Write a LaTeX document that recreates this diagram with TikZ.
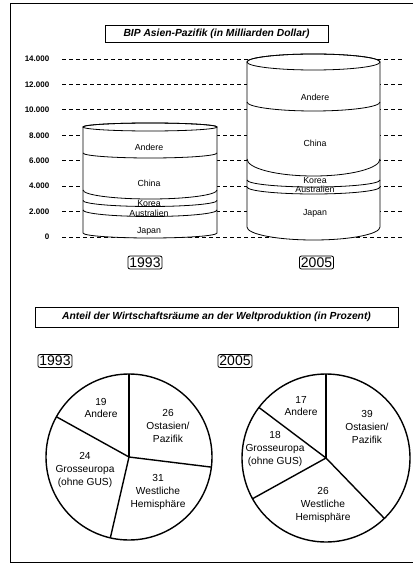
\documentclass[tikz,border=0pt]{standalone}
\usepackage{fontspec}
\setmainfont{Liberation Sans}
\usetikzlibrary{positioning}
% body of a drum: centre x, half width, top y, top depth, bottom y, bottom depth
\newcommand{\drum}[6]{
  \filldraw[fill=white] (#1-#2,-#3) -- (#1-#2,-#5)
    arc[start angle=180,end angle=360,x radius=#2,y radius=#6]
    -- (#1+#2,-#3) arc[start angle=0,end angle=180,x radius=#2,y radius=#4] -- cycle;
  \draw (#1,-#3) ellipse[x radius=#2,y radius=#4];}
% front line between two layers
\newcommand{\layer}[4]{\draw (#1-#2,-#3) arc[start angle=180,end angle=360,x radius=#2,y radius=#4];}

\begin{document}
\begin{tikzpicture}[x=1pt,y=1pt,line width=0.8pt,
    lbl/.style={font=\fontsize{8.8}{9}\selectfont},
    tick/.style={anchor=east,font=\fontsize{8}{8}\selectfont\bfseries},
    grid/.style={dash pattern=on 4pt off 3pt,line width=0.9pt},
    titlebox/.style={draw,inner sep=0pt,font=\fontsize{10.3}{10}\selectfont\bfseries\itshape},
    yearbox/.style={draw,rounded corners=2pt,inner sep=1.5pt,font=\fontsize{14}{14}\selectfont},
    share/.style={align=center,font=\fontsize{10.2}{12.8}\selectfont},
    pie/.style={line width=1.4pt}]
    \useasboundingbox (0,0) rectangle (413,-564);
    \draw (413,-3) -- (10,-3) -- (10,-562) -- (413,-562);

    \node[titlebox,minimum width=223,minimum height=17] (bip) at (216.5,-33.5) {BIP Asien-Pazifik (in Milliarden Dollar)};

    % axis with dashed lines
    \foreach \v/\t in {0/0,1/2.000,2/4.000,3/6.000,4/8.000,5/10.000,6/12.000,7/14.000} {
        \node[tick] (t\v) at (53,-237+25.43*\v) {\t};
        \draw[grid] (62,-237+25.43*\v) -- (403,-237+25.43*\v);
    }

    % 1993
    \drum{150}{67}{127}{4}{233}{5}
    \layer{150}{67}{153}{5}
    \layer{150}{67}{190}{9}
    \layer{150}{67}{200.5}{6}
    \layer{150}{67}{210}{6.5}
    \node[lbl] (a93) at (149,-147) {Andere};
    \node[lbl] (c93) at (149,-183) {China};
    \node[lbl] (k93) at (149,-203.5) {Korea};
    \node[lbl] (au93) at (149,-213.5) {Australien};
    \node[lbl] (j93) at (149,-231) {Japan};

    % 2005
    \drum{313.5}{66.5}{62}{8}{227}{13}
    \layer{313.5}{66.5}{102}{9}
    \layer{313.5}{66.5}{159}{17}
    \layer{313.5}{66.5}{180}{7}
    \layer{313.5}{66.5}{187}{7}
    \node[lbl] (a05) at (315,-97) {Andere};
    \node[lbl] (c05) at (315,-143) {China};
    \node[lbl] (k05) at (315,-180.5) {Korea};
    \node[lbl] (au05) at (315,-189.5) {Australien};
    \node[lbl] (j05) at (315,-213) {Japan};

    \node[yearbox] (y93) at (145,-262.5) {1993};
    \node[yearbox] (y05) at (316.5,-262.5) {2005};

    \node[titlebox,minimum width=363,minimum height=20] (welt) at (216.5,-317) {Anteil der Wirtschaftsräume an der Weltproduktion (in Prozent)};

    \node[yearbox] (p93) at (55,-361) {1993};
    \node[yearbox] (p05) at (235,-361) {2005};

    % pies
    \coordinate (pa) at (129,-457);
    \coordinate (pb) at (326,-458);
    \draw[pie] (pa) circle[radius=83];
    \foreach \a in {90,-7,-103,151}
        \draw[pie] (pa) -- ++(\a:83pt);
    \draw[pie] (pb) circle[radius=84];
    \foreach \a in {90,-46,209,143}
        \draw[pie] (pb) -- ++(\a:84pt);

    \node[share] (s1) at (101,-408) {19\\Andere};
    \node[share] (s2) at (168,-426) {26\\Ostasien/\\Pazifik};
    \node[share] (s3) at (85,-470) {24\\Grosseuropa\\(ohne GUS)};
    \node[share] (s4) at (158,-492) {31\\Westliche\\Hemisphäre};

    \node[share] (s5) at (301,-406) {17\\Andere};
    \node[share] (s6) at (367,-427) {39\\Ostasien/\\Pazifik};
    \node[share] (s7) at (275,-449) {18\\Grosseuropa\\(ohne GUS)};
    \node[share] (s8) at (323,-505) {26\\Westliche\\Hemisphäre};
\end{tikzpicture}
\end{document}
